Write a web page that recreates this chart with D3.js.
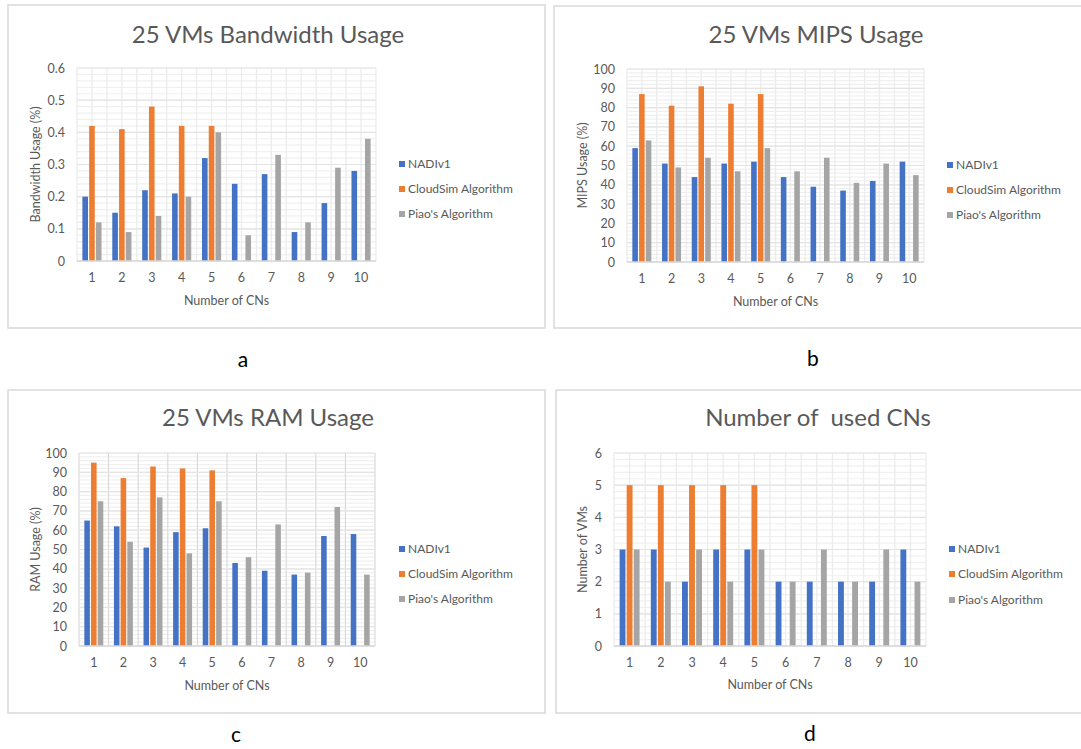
<!DOCTYPE html>
<html>
<head>
<meta charset="utf-8">
<script src="https://cdn.jsdelivr.net/npm/d3@7"></script>
<style>
  html, body { margin: 0; padding: 0; background: #ffffff; }
  svg { display: block; font-family: Lato, "Open Sans", sans-serif; }
</style>
</head>
<body>
<svg id="chart" width="1081" height="749"></svg>
<script>
// ---- data ----
const cns = ["1", "2", "3", "4", "5", "6", "7", "8", "9", "10"];
const seriesNames = ["NADIv1", "CloudSim Algorithm", "Piao's Algorithm"];
const seriesColors = ["#4472C4", "#ED7D31", "#A5A5A5"];

const bandwidthNadi  = [0.20, 0.15, 0.22, 0.21, 0.32, 0.24, 0.27, 0.09, 0.18, 0.28];
const bandwidthCloud = [0.42, 0.41, 0.48, 0.42, 0.42, 0, 0, 0, 0, 0];
const bandwidthPiao  = [0.12, 0.09, 0.14, 0.20, 0.40, 0.08, 0.33, 0.12, 0.29, 0.38];

const mipsNadi  = [59, 51, 44, 51, 52, 44, 39, 37, 42, 52];
const mipsCloud = [87, 81, 91, 82, 87, 0, 0, 0, 0, 0];
const mipsPiao  = [63, 49, 54, 47, 59, 47, 54, 41, 51, 45];

const ramNadi  = [65, 62, 51, 59, 61, 43, 39, 37, 57, 58];
const ramCloud = [95, 87, 93, 92, 91, 0, 0, 0, 0, 0];
const ramPiao  = [75, 54, 77, 48, 75, 46, 63, 38, 72, 37];

const usedNadi  = [3, 3, 2, 3, 3, 2, 2, 2, 2, 3];
const usedCloud = [5, 5, 5, 5, 5, 0, 0, 0, 0, 0];
const usedPiao  = [3, 2, 3, 2, 3, 2, 3, 2, 3, 2];

const bandwidthTicks = [0, 0.1, 0.2, 0.3, 0.4, 0.5, 0.6];
const percentTicks = [0, 10, 20, 30, 40, 50, 60, 70, 80, 90, 100];
const countTicks = [0, 1, 2, 3, 4, 5, 6];

// ---- layout of the four panels ----
const panels = [
  {
    frame: {l: 8, t: 5, r: 545, b: 328},
    title: "25 VMs Bandwidth Usage", titleX: 268, titleY: 35,
    plot: {l: 77, r: 376, t: 68, b: 261},
    series: [bandwidthNadi, bandwidthCloud, bandwidthPiao],
    ticks: bandwidthTicks, minorStep: 0.02, fmt: d => String(+d.toFixed(1)),
    yTitle: "Bandwidth Usage (%)", yTitleX: 36, xTitleY: 301,
    legendX: 399, legendRows: [164, 189, 214], vgrid: "half",
    letter: "a", letterX: 243, letterY: 360
  },
  {
    frame: {l: 554, t: 6, r: 1095, b: 328},
    title: "25 VMs MIPS Usage", titleX: 816, titleY: 35,
    plot: {l: 627, r: 924, t: 69, b: 262},
    series: [mipsNadi, mipsCloud, mipsPiao],
    ticks: percentTicks, minorStep: 2, fmt: d => String(d),
    yTitle: "MIPS Usage (%)", yTitleX: 583, xTitleY: 302,
    legendX: 947, legendRows: [165, 190, 215], vgrid: "half",
    letter: "b", letterX: 813, letterY: 359
  },
  {
    frame: {l: 8, t: 390, r: 545, b: 713},
    title: "25 VMs RAM Usage", titleX: 268, titleY: 418,
    plot: {l: 79, r: 375, t: 453, b: 646},
    series: [ramNadi, ramCloud, ramPiao],
    ticks: percentTicks, minorStep: 2, fmt: d => String(d),
    yTitle: "RAM Usage (%)", yTitleX: 36, xTitleY: 686,
    legendX: 399, legendRows: [549, 574, 599], vgrid: "bands",
    letter: "c", letterX: 236, letterY: 735
  },
  {
    frame: {l: 556, t: 390, r: 1095, b: 713},
    title: "Number of  used CNs", titleX: 818, titleY: 418,
    plot: {l: 614, r: 926, t: 453, b: 646},
    series: [usedNadi, usedCloud, usedPiao],
    ticks: countTicks, minorStep: 0.2, fmt: d => String(d),
    yTitle: "Number of VMs", yTitleX: 583, xTitleY: 685,
    legendX: 949, legendRows: [549, 574, 600], vgrid: "half",
    letter: "d", letterX: 810, letterY: 734
  }
];

const svg = d3.select("#chart");
const textColor = "#595959";

function drawPanel(p) {
  const g = svg.append("g");

  // chart frame
  g.append("rect")
    .attr("x", p.frame.l).attr("y", p.frame.t)
    .attr("width", p.frame.r - p.frame.l).attr("height", p.frame.b - p.frame.t)
    .attr("fill", "#ffffff").attr("stroke", "#d9d9d9").attr("stroke-width", 1.5);

  const yMax = p.ticks[p.ticks.length - 1];
  const y = d3.scaleLinear().domain([0, yMax]).range([p.plot.b, p.plot.t]);
  const x0 = d3.scaleBand().domain(cns).range([p.plot.l, p.plot.r]).padding(0);
  const groupW = x0.bandwidth() * 0.64;
  const x1 = d3.scaleBand().domain(d3.range(seriesNames.length))
    .range([0, groupW]).paddingInner(0.17).paddingOuter(0);

  const grid = g.append("g");
  // minor horizontal gridlines
  const minorCount = Math.round(yMax / p.minorStep);
  const minorVals = d3.range(minorCount + 1).map(i => i * p.minorStep);
  grid.selectAll("line.minor").data(minorVals).join("line")
    .attr("class", "minor")
    .attr("x1", p.plot.l).attr("x2", p.plot.r)
    .attr("y1", d => y(d)).attr("y2", d => y(d))
    .attr("stroke", "#f0f0f0").attr("stroke-width", 1.2);

  // vertical gridlines
  let vVals;
  if (p.vgrid === "half") {
    vVals = [];
    cns.forEach(c => { vVals.push(x0(c)); vVals.push(x0(c) + x0.bandwidth() / 2); });
    vVals.push(p.plot.r);
    grid.selectAll("line.v").data(vVals).join("line")
      .attr("class", "v")
      .attr("x1", d => d).attr("x2", d => d)
      .attr("y1", p.plot.t).attr("y2", p.plot.b)
      .attr("stroke", "#ececec").attr("stroke-width", 1.3);
  } else {
    vVals = cns.map(c => x0(c)).concat([p.plot.r]);
    grid.selectAll("line.v").data(vVals).join("line")
      .attr("class", "v")
      .attr("x1", d => d).attr("x2", d => d)
      .attr("y1", p.plot.t).attr("y2", p.plot.b)
      .attr("stroke", "#d4d4d4").attr("stroke-width", 1);
  }

  // major horizontal gridlines
  grid.selectAll("line.major").data(p.ticks).join("line")
    .attr("class", "major")
    .attr("x1", p.plot.l).attr("x2", p.plot.r)
    .attr("y1", d => y(d)).attr("y2", d => y(d))
    .attr("stroke", "#e4e4e4").attr("stroke-width", 1.2);

  // bars
  const rows = cns.map((c, i) => ({cn: c, vals: p.series.map(s => s[i])}));
  const groups = g.selectAll("g.cn").data(rows).join("g")
    .attr("class", "cn")
    .attr("transform", d => `translate(${x0(d.cn) + (x0.bandwidth() - groupW) / 2},0)`);
  groups.selectAll("rect").data(d => d.vals.map((v, k) => ({v, k})).filter(e => e.v > 0)).join("rect")
    .attr("x", e => x1(e.k))
    .attr("width", x1.bandwidth())
    .attr("y", e => y(e.v))
    .attr("height", e => y(0) - y(e.v))
    .attr("fill", e => seriesColors[e.k]);

  // baseline
  g.append("line")
    .attr("x1", p.plot.l).attr("x2", p.plot.r)
    .attr("y1", y(0)).attr("y2", y(0))
    .attr("stroke", "#d9d9d9").attr("stroke-width", 1.3);

  // y axis labels
  const yAxis = g.append("g")
    .attr("transform", `translate(${p.plot.l},0)`)
    .call(d3.axisLeft(y).tickValues(p.ticks).tickFormat(p.fmt).tickSize(0).tickPadding(12));
  yAxis.select(".domain").remove();
  yAxis.selectAll("text").attr("fill", textColor).style("font-size", "12.5px")
    .style("font-family", "Lato, 'Open Sans', sans-serif");

  // x axis labels
  const xAxis = g.append("g")
    .attr("transform", `translate(0,${p.plot.b})`)
    .call(d3.axisBottom(x0).tickSize(0).tickPadding(12.5));
  xAxis.select(".domain").remove();
  xAxis.selectAll("text").attr("fill", textColor).style("font-size", "12.5px")
    .style("font-family", "Lato, 'Open Sans', sans-serif");

  // titles
  g.append("text")
    .attr("x", p.titleX).attr("y", p.titleY).attr("dy", "0.35em")
    .attr("text-anchor", "middle").attr("fill", textColor)
    .style("font-size", "24px")
    .style("white-space", "pre")
    .attr("xml:space", "preserve")
    .text(p.title);

  g.append("text")
    .attr("x", (p.plot.l + p.plot.r) / 2).attr("y", p.xTitleY).attr("dy", "0.35em")
    .attr("text-anchor", "middle").attr("fill", textColor)
    .style("font-size", "12.5px")
    .text("Number of CNs");

  g.append("text")
    .attr("transform", `translate(${p.yTitleX},${(p.plot.t + p.plot.b) / 2}) rotate(-90)`)
    .attr("dy", "0.35em")
    .attr("text-anchor", "middle").attr("fill", textColor)
    .style("font-size", "12.5px")
    .text(p.yTitle);

  // legend
  const leg = g.selectAll("g.leg").data(seriesNames).join("g")
    .attr("class", "leg")
    .attr("transform", (d, i) => `translate(${p.legendX},${p.legendRows[i]})`);
  leg.append("rect")
    .attr("x", 0).attr("y", -3).attr("width", 6).attr("height", 6)
    .attr("fill", (d, i) => seriesColors[i]);
  leg.append("text")
    .attr("x", 9).attr("dy", "0.35em")
    .attr("fill", textColor)
    .style("font-size", "12px")
    .text(d => d);

  // panel letter
  svg.append("text")
    .attr("x", p.letterX).attr("y", p.letterY).attr("dy", "0.35em")
    .attr("text-anchor", "middle").attr("fill", "#000000")
    .style("font-size", "21px")
    .text(p.letter);
}

panels.forEach(drawPanel);
</script>
</body>
</html>
